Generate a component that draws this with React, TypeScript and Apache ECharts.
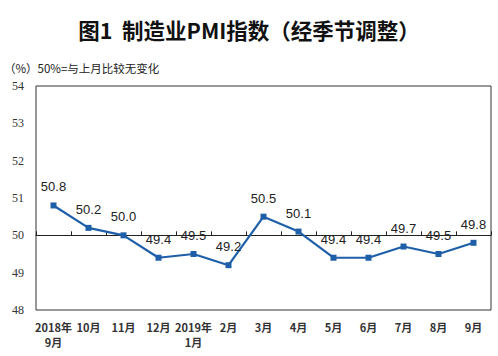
import React, { useEffect, useRef } from "react";
import * as echarts from "echarts";

const categories = [
  "2018年\n9月", "10月", "11月", "12月", "2019年\n1月", "2月", "3月",
  "4月", "5月", "6月", "7月", "8月", "9月",
];
const pmiValues = [50.8, 50.2, 50.0, 49.4, 49.5, 49.2, 50.5, 50.1, 49.4, 49.4, 49.7, 49.5, 49.8];
const yMin = 48;
const yMax = 54;
const yInterval = 1;
const refLine = 50;
const titleText = "图1  制造业PMI指数（经季节调整）";
const noteText = "（%）50%=与上月比较无变化";

export default function App() {
  const ref = useRef<HTMLDivElement>(null);
  useEffect(() => {
    if (!ref.current) return;
    const chart = echarts.init(ref.current, null, { renderer: "svg" });
    const gridTop = 86;
    const gridBottom = 46;
    const plotH = 356 - gridTop - gridBottom;
    const off = -((refLine - yMin) / (yMax - yMin)) * plotH;
    chart.setOption({
      animation: false,
      backgroundColor: "#ffffff",
      title: {
        text: titleText,
        left: "center",
        top: 14,
        textStyle: {
          fontFamily: "Noto Sans CJK SC",
          fontWeight: "bold",
          fontSize: 21.5,
          color: "#111",
        },
      },
      graphic: [
        {
          type: "text",
          left: 4,
          top: 62,
          style: {
            text: noteText,
            fontFamily: "Noto Sans CJK SC",
            fontSize: 11.5,
            fill: "#222",
          },
        },
      ],
      grid: {
        left: 36,
        right: 7,
        top: gridTop,
        bottom: gridBottom,
        show: true,
        borderColor: "#333",
        borderWidth: 1,
        containLabel: false,
      },
      xAxis: [
        {
          type: "category",
          data: categories,
          position: "bottom",
          boundaryGap: true,
          axisLine: { show: false },
          axisTick: { show: false },
          axisLabel: {
            margin: 9,
            fontSize: 11,
            fontWeight: "bold",
            fontFamily: "Noto Sans CJK SC",
            color: "#333",
            lineHeight: 15,
            interval: 0,
          },
        },
        {
          type: "category",
          data: categories,
          position: "bottom",
          offset: off,
          boundaryGap: true,
          axisLine: { show: true, lineStyle: { color: "#222", width: 1 } },
          axisTick: { show: true, inside: true, length: 4, lineStyle: { color: "#222" }, interval: 0 },
          axisLabel: { show: false },
        },
      ],
      yAxis: {
        type: "value",
        min: yMin,
        max: yMax,
        interval: yInterval,
        axisLine: { show: false },
        axisTick: { show: false },
        splitLine: { show: false },
        axisLabel: {
          margin: 12,
          fontSize: 12,
          fontFamily: "Liberation Serif",
          color: "#333",
        },
      },
      series: [
        {
          type: "line",
          data: pmiValues,
          xAxisIndex: 0,
          symbol: "rect",
          symbolSize: 6,
          lineStyle: { color: "#1f5fa8", width: 2.2 },
          itemStyle: { color: "#1f5fa8" },
          label: {
            show: true,
            position: "top",
            distance: 9,
            fontSize: 13,
            fontFamily: "Liberation Sans",
            color: "#222",
            formatter: (p: any) => Number(p.value).toFixed(1),
          },
        },
      ],
    });
    return () => chart.dispose();
  }, []);
  return (
    <div
      ref={ref}
      style={{ position: "absolute", left: 0, top: 0, width: 498, height: 356 }}
    />
  );
}
